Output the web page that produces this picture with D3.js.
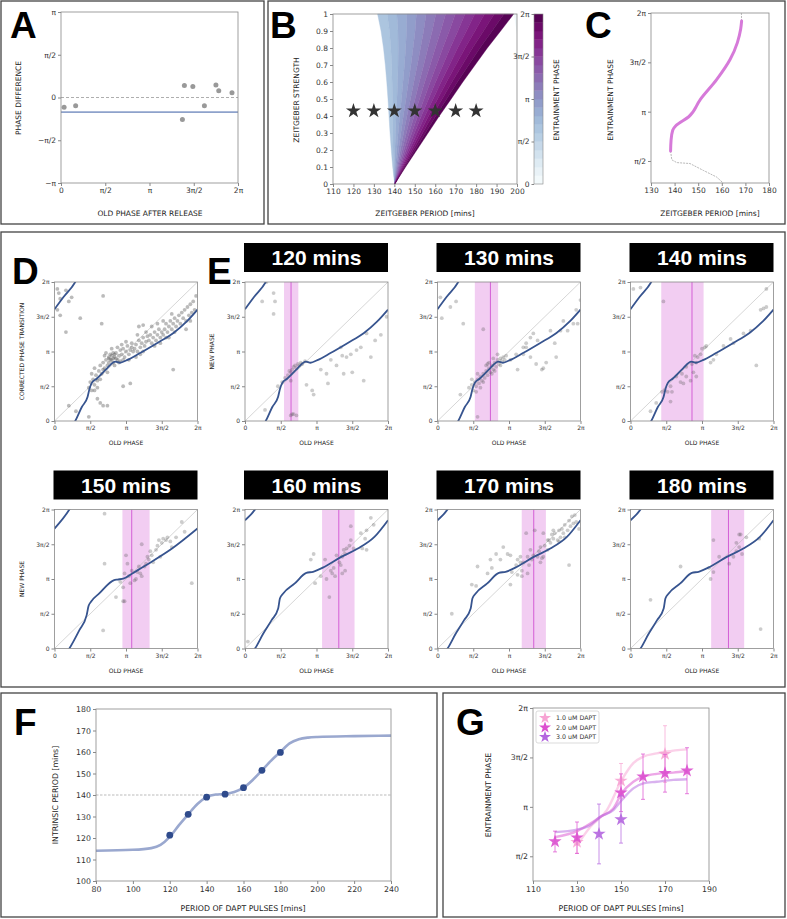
<!DOCTYPE html>
<html>
<head>
<meta charset="utf-8">
<title>Entrainment of the segmentation clock</title>
<script src="https://cdn.jsdelivr.net/npm/d3@7"></script>
<style>
  body, html { margin: 0; padding: 0; background: #fff; }
  svg { display: block; }
</style>
</head>
<body>
<svg id="svg" width="787" height="919"></svg>
<script>
const TAU = 2 * Math.PI;
const PI = Math.PI;
const FONT = 'DejaVu Sans, sans-serif';
const BOLD = 'Liberation Sans, Arial, sans-serif';

// ---------- data ----------
const piTicks = [0, PI / 2, PI, 3 * PI / 2, TAU];
const piLabels = ['0', 'π/2', 'π', '3π/2', '2π'];

// A: phase difference after release
const aOldPhase = [0.11, 0.52, 4.31, 4.38, 4.68, 5.09, 5.50, 5.60, 6.07];
const aPhaseDiff = [-0.36, -0.30, -0.81, 0.44, 0.40, -0.30, 0.46, 0.25, 0.17];
const aMeanDiff = -0.54;
const aYTicks = [-PI, -PI / 2, 0, PI / 2, PI];
const aYLabels = ['−π', '−π/2', '0', 'π/2', 'π'];

// B: Arnold tongue, edges of the entrainment region
const bStrength = [0, 0.1, 0.2, 0.3, 0.4, 0.5, 0.6, 0.7, 0.8, 0.9, 1.0];
const bLeftEdge = [140.2, 139.2, 138.5, 137.9, 137.4, 136.9, 136.3, 135.6, 134.7, 133.5, 131.8];
const bRightEdge = [140.2, 145.5, 151.0, 156.5, 162.0, 167.8, 173.5, 179.5, 185.5, 192.0, 198.4];
const bLeftPhase = 1.89;           // entrainment phase along the left edge
const bWrapPeriod = [198.4, 200, 200];
const bWrapStrength = [1, 1, 0.88];
const bStarPeriods = [120, 130, 140, 150, 160, 170, 180];
const bStarStrength = 0.43;
const bLevels = 20;

// C: entrainment phase at strength 0.43
const cPeriod = [138.3, 138.5, 139.2, 140.6, 146.0, 150.8, 157.8, 163.5, 166.6, 168.0, 168.4];
const cPhase = [1.89, 2.23, 2.55, 2.70, 2.98, 3.52, 4.16, 4.80, 5.34, 5.77, 6.03];
const cUpperPeriod = [168.4, 168.3];
const cUpperPhase = [6.03, 6.28];
const cLowerPeriod = [138.3, 138.8, 140.9, 146.5, 152.2, 157.8, 160.6];
const cLowerPhase = [1.89, 1.61, 1.52, 1.49, 1.27, 1.06, 0.87];
const cPhaseMin = 0.87;

// D/E: phases in percent of a cycle (0..100 = 0..2π)
const curveLowX = [0, 6.3, 14.5, 19.1, 23.1, 24.5, 26.1, 29.6, 36.6, 42.5, 45.8, 50.6, 59.8, 71.6, 83.2, 92.5, 100];
const curveLowY = [-19.6, -10.8, 0, 10.1, 17.3, 23.2, 27.4, 30.6, 37.7, 42.7, 41.9, 43.8, 48.9, 56.0, 63.3, 71.6, 80.1];
const curve150X = [0, 10.4, 17.4, 22.5, 23.8, 25.5, 31.3, 41.7, 44.0, 48.6, 54.4, 66.0, 82.2, 100];
const curve150Y = [-13.7, 0, 13.2, 24.0, 30.5, 33.6, 39.6, 49.2, 49.6, 50.4, 54.0, 61.2, 71.9, 86.3];
const curveHighX = [0, 7.0, 12.8, 18.6, 23.2, 24.4, 26.7, 34.8, 42.9, 47.6, 55.7, 67.3, 78.9, 90.5, 100];
const curveHighY = [-7.7, 0, 10.8, 20.4, 28.8, 36.0, 39.6, 46.8, 54.4, 55.2, 58.8, 65.9, 71.9, 80.3, 92.3];

const ePeriods = [120, 130, 140, 150, 160, 170, 180];
const eBandLo = [27.3, 26.1, 21.5, 47.5, 53.9, 58.9, 56.4];
const eBandHi = [37.3, 42.4, 51.1, 66.5, 76.6, 75.8, 79.5];
const eMean = [32.2, 37.0, 43.0, 54.0, 65.6, 67.3, 68.5];

const dPoints = [[2,95],[3,92],[4,88],[8,94],[12,89],[10,86],[2,80],[4,76],[18,74],[8,64],[34,90],[33,70],[59,68],[62,69],[24,3],[30,16],[32,13],[34,11],[37,11],[10,11],[15,7],[28,22],[48,25],[53,27],[83,37],
[24,24],[25,28],[26,22],[27,30],[28,26],[29,33],[30,29],[26,34],[28,38],[30,24],
[31,36],[32,40],[33,34],[34,42],[35,38],[36,44],[37,40],[38,46],[32,30],[35,47],[37,35],[38,42],[34,37],[36,49],
[39,44],[40,47],[41,42],[42,46],[43,49],[44,44],[45,47],[46,51],[40,52],[42,40],[44,53],[46,43],[39,48],[41,45],[43,45],[45,42],[40,44],[42,48],[38,45],[41,49],
[47,48],[48,52],[49,46],[50,50],[51,54],[52,48],[53,51],[54,56],[55,50],[48,44],[50,57],[52,44],[54,53],[47,55],
[56,52],[57,55],[58,50],[59,58],[60,53],[61,56],[62,60],[63,54],[64,57],[65,61],[58,62],[60,48],[62,50],[64,64],[57,46],
[66,58],[67,62],[68,56],[69,60],[70,64],[71,58],[72,62],[73,66],[74,60],[75,64],[68,68],[70,54],[72,70],[74,56],
[76,62],[77,66],[78,70],[79,64],[80,68],[81,72],[82,66],[83,70],[84,74],[85,68],[80,60],[82,77],[84,64],[78,60],[76,72],
[86,72],[87,76],[88,70],[89,78],[90,74],[91,80],[92,72],[93,82],[94,76],[95,84],[96,78],[97,86],[98,80],[99,90],[92,66],[95,72]];

const e120Points = [[15,100],[20,92],[21,86],[12,86],[20,77],[14,8],[23,25],[26,28],[28,31],[30,33],[31,36],[32,35],[33,37],[34,39],[35,40],[36,38],[37,41],[38,40],[39,42],[40,41],[42,43],[32,29],[33,5],[34,5],[32,4],[36,4],
[43,26],[47,22],[48,19],[57,34],[60,44],[64,40],[67,53],[68,47],[71,46],[74,48],[78,51],[81,53],[83,29],[85,63],[88,46],[91,58],[95,62],[99,75],[75,35],[69,34],[58,27],[53,37]];

const e130Points = [[2,89],[3,74],[9,82],[13,86],[18,70],[32,66],[28,3],[16,19],
[22,24],[24,26],[25,22],[26,28],[27,25],[28,30],[29,27],[30,32],[31,29],[32,34],[33,31],[34,36],[35,33],[36,38],[37,35],[38,40],[39,37],[40,42],[41,39],[42,44],[43,41],[44,45],[45,43],[46,46],[47,44],[48,47],[24,30],[28,34],[32,28],[36,42],[40,36],[44,40],[30,24],[34,40],[38,34],[42,48],[27,21],[35,41],[39,45],
[51,44],[55,48],[56,37],[60,53],[62,56],[65,60],[60,48],[65,46],[69,41],[74,38],[76,42],[82,56],[86,65],[88,72],[91,65],[95,70],[97,80],[100,87],[98,70],[70,58],[67,63],[62,53],[73,37],[79,65],[83,46]];

const e140Points = [[2,95],[7,96],[23,86],[22,21],[24,22],[26,21],[28,25],[29,21],[28,14],[14,7],[18,13],[32,32],[35,28],[37,27],[39,32],[42,29],[44,35],[43,41],[45,47],[47,46],[49,48],[46,42],[50,52],[52,53],[53,54],[56,42],[58,44],[60,48],[65,54],[70,59],[72,56],[79,63],[84,65],[88,40],[91,80],[93,81],[95,82],[95,95],[46,32],[39,39],[36,34]];

const e150Points = [[35,97],[35,61],[34,13],[49,34],[48,34],[43,37],[50,67],[51,61],[49,54],[52,52],[54,56],[57,50],[59,59],[60,54],[61,52],[61,75],[64,61],[65,66],[66,64],[67,70],[68,67],[71,71],[72,74],[73,78],[75,76],[76,79],[78,78],[79,80],[81,77],[82,73],[85,80],[89,91],[91,84],[96,47],[46,48],[53,47],[56,49],[58,55],[63,59],[48,44],[74,66],[69,62]];

const e160Points = [[2,5],[48,68],[46,64],[56,64],[60,56],[61,54],[57,50],[59,37],[62,58],[64,67],[66,62],[67,60],[68,66],[69,71],[70,68],[71,72],[73,74],[74,88],[70,56],[68,54],[76,72],[81,83],[85,85],[88,94],[90,89],[82,72],[85,71],[84,79],[63,52],[49,47],[53,52],[74,78]];

const e170Points = [[10,25],[24,46],[27,45],[28,59],[35,54],[37,64],[38,58],[46,73],[49,68],[51,46],[52,55],[55,60],[56,64],[58,66],[59,56],[60,62],[62,83],[63,66],[64,60],[65,71],[66,64],[67,67],[68,85],[70,66],[71,70],[72,73],[73,65],[74,83],[75,74],[77,71],[78,78],[79,76],[80,82],[81,79],[82,83],[84,78],[85,85],[86,80],[87,86],[88,83],[89,89],[91,85],[92,92],[93,88],[94,95],[95,90],[96,96],[97,91],[99,86],[92,60],[56,53],[59,52],[63,54],[58,62],[51,67],[44,64],[41,68],[77,78],[81,85],[85,77],[89,80],[72,62],[74,66]];

const e180Points = [[14,35],[35,59],[58,78],[58,55],[56,50],[55,58],[62,66],[69,61],[74,76],[76,82],[77,82],[74,70],[76,73],[78,68],[81,80],[90,79],[91,14],[72,66]];

// F: intrinsic period vs DAPT pulse period
const fPulse = [120, 130, 140, 150, 160, 170, 180];
const fIntrinsic = [121.3, 131.0, 139.0, 140.4, 143.4, 151.5, 159.8];
const fFitX = [80, 100, 110, 115, 120, 125, 130, 135, 140, 145, 150, 155, 160, 165, 170, 175, 180, 185, 190, 195, 200, 220, 240];
const fFitY = [114.1, 114.5, 115.3, 116.8, 120.5, 126.0, 131.0, 135.8, 139.0, 140.2, 140.5, 141.4, 143.4, 147.0, 151.5, 156.0, 160.0, 164.0, 165.9, 166.7, 167.0, 167.4, 167.6];
const fRefPeriod = 140;

// G: entrainment phase per DAPT concentration
const gSeries = ['1.0 uM DAPT', '2.0 uM DAPT', '3.0 uM DAPT'];
const gColors = ['#f7a3d3', '#dc50cf', '#b466df'];
const g1X = [130, 150, 170], g1Y = [2.02, 3.97, 4.82], g1Err = [0.35, 0.55, 0.90];
const g2X = [120, 130, 150, 160, 170, 180], g2Y = [2.04, 2.16, 3.59, 4.10, 4.21, 4.29], g2Err = [0.33, 0.50, 0.60, 0.72, 0.60, 0.73];
const g3X = [140, 150], g3Y = [2.28, 2.74], g3Err = [0.95, 0.75];
const gFit1X = [130, 136, 143.5, 150.3, 155.6, 160.1, 166.2, 170.7, 180];
const gFit1Y = [1.92, 2.50, 3.03, 3.99, 4.53, 4.74, 4.84, 4.90, 4.97];
const gFitX = [120, 130, 136, 140.5, 146.5, 150.3, 155.6, 160.1, 166.2, 173.7, 180];
const gFit2Y = [2.18, 2.37, 2.61, 2.82, 3.09, 3.57, 3.94, 4.10, 4.19, 4.23, 4.28];
const gFit3Y = [2.34, 2.42, 2.56, 2.82, 3.04, 3.35, 3.73, 3.89, 3.94, 4.00, 4.02];

// ---------- helpers ----------
const svg = d3.select('#svg');
svg.append('rect').attr('width', 787).attr('height', 919).attr('fill', '#fff');

// panel boxes
[[1, 1, 263, 223], [268, 1, 517, 223], [1, 232, 784, 455], [1, 693, 436, 224], [443, 693, 342, 224]]
  .forEach(b => svg.append('rect').attr('x', b[0]).attr('y', b[1]).attr('width', b[2]).attr('height', b[3])
    .attr('fill', 'none').attr('stroke', '#444').attr('stroke-width', 1.3));

function letter(t, x, y) {
  svg.append('text').attr('x', x).attr('y', y).text(t)
    .attr('font-family', BOLD).attr('font-weight', 'bold').attr('font-size', 37).attr('fill', '#000');
}

function label(g, t, x, y, fs, rot) {
  g.append('text').text(t)
    .attr('transform', rot ? `translate(${x},${y}) rotate(-90)` : `translate(${x},${y})`)
    .attr('text-anchor', 'middle').attr('font-family', FONT).attr('font-size', fs).attr('fill', '#222');
}

function styleAxis(sel, fs) {
  sel.select('.domain').remove();
  sel.selectAll('text').attr('font-size', fs).attr('font-family', FONT).attr('fill', '#333');
  sel.selectAll('line').attr('stroke', '#555').attr('stroke-width', 0.7);
}

function axes(g, x, y, o) {
  const xa = d3.axisBottom(x).tickValues(o.xt).tickSize(3).tickPadding(2);
  if (o.xl) xa.tickFormat((d, i) => o.xl[i]);
  const ya = d3.axisLeft(y).tickValues(o.yt).tickSize(3).tickPadding(2);
  if (o.yl) ya.tickFormat((d, i) => o.yl[i]);
  g.append('g').attr('transform', `translate(0,${y.range()[0]})`).call(xa).call(s => styleAxis(s, o.fs));
  g.append('g').attr('transform', `translate(${x.range()[0]},0)`).call(ya).call(s => styleAxis(s, o.fs));
  g.append('rect').attr('x', x.range()[0]).attr('y', y.range()[1])
    .attr('width', x.range()[1] - x.range()[0]).attr('height', y.range()[0] - y.range()[1])
    .attr('fill', 'none').attr('stroke', '#888').attr('stroke-width', 0.8);
}

// ---------- A ----------
{
  const g = svg.append('g');
  const x = d3.scaleLinear().domain([0, TAU]).range([61, 238]);
  const y = d3.scaleLinear().domain([-PI, PI]).range([183, 12]);
  g.append('line').attr('x1', x(0)).attr('x2', x(TAU)).attr('y1', y(0)).attr('y2', y(0))
    .attr('stroke', '#999').attr('stroke-width', 0.8).attr('stroke-dasharray', '3,2');
  g.append('line').attr('x1', x(0)).attr('x2', x(TAU)).attr('y1', y(aMeanDiff)).attr('y2', y(aMeanDiff))
    .attr('stroke', '#8ea2cb').attr('stroke-width', 1.8);
  g.selectAll('circle').data(aOldPhase).join('circle')
    .attr('cx', d => x(d)).attr('cy', (d, i) => y(aPhaseDiff[i])).attr('r', 2.5).attr('fill', '#999');
  axes(g, x, y, { xt: piTicks, xl: piLabels, yt: aYTicks, yl: aYLabels, fs: 7.5 });
  label(g, 'OLD PHASE AFTER RELEASE', 150, 216, 7.5);
  label(g, 'PHASE DIFFERENCE', 21, 98, 7.5, true);
  letter('A', 10, 38);
}

// ---------- B ----------
{
  const g = svg.append('g');
  const x = d3.scaleLinear().domain([110, 200]).range([333, 517]);
  const y = d3.scaleLinear().domain([0, 1]).range([184, 14]);
  const col = v => d3.interpolateBuPu(Math.min(1, v / TAU));
  const step = TAU / bLevels;
  const edge = f => bStrength.map((s, i) => [x(bLeftEdge[i] + f * (bRightEdge[i] - bLeftEdge[i])), y(s)]);
  for (let k = 0; k < bLevels; k++) {
    const p0 = Math.max(k * step, bLeftPhase), p1 = (k + 1) * step;
    if (p1 <= bLeftPhase) continue;
    const f0 = (p0 - bLeftPhase) / (TAU - bLeftPhase), f1 = (p1 - bLeftPhase) / (TAU - bLeftPhase);
    const poly = edge(f0).concat(edge(f1).reverse());
    g.append('path').attr('d', 'M' + poly.join('L') + 'Z')
      .attr('fill', col((k + 0.5) * step)).attr('stroke', col((k + 0.5) * step)).attr('stroke-width', 0.4);
  }
  const wrap = bWrapPeriod.map((p, i) => [x(p), y(bWrapStrength[i])]);
  g.append('path').attr('d', 'M' + wrap.join('L') + 'Z').attr('fill', col(0.5 * step));
  g.selectAll('.star').data(bStarPeriods).join('path').attr('class', 'star')
    .attr('d', d3.symbol().type(d3.symbolStar).size(70))
    .attr('transform', d => `translate(${x(d)},${y(bStarStrength)})`).attr('fill', '#333');
  axes(g, x, y, { xt: d3.range(110, 201, 10), yt: bStrength, yl: bStrength.map(v => v === 0 ? '0' : v === 1 ? '1' : v.toFixed(1)), fs: 7.5 });
  label(g, 'ZEITGEBER PERIOD [mins]', 425, 216, 7.5);
  label(g, 'ZEITGEBER STRENGTH', 299, 100, 7.5, true);
  // colorbar
  const cb = d3.scaleLinear().domain([0, TAU]).range([184, 14]);
  for (let k = 0; k < bLevels; k++) {
    g.append('rect').attr('x', 534).attr('width', 9).attr('y', cb((k + 1) * step)).attr('height', cb(k * step) - cb((k + 1) * step) + 0.3)
      .attr('fill', col((k + 0.5) * step));
  }
  g.append('rect').attr('x', 534).attr('y', 14).attr('width', 9).attr('height', 170).attr('fill', 'none').attr('stroke', '#888').attr('stroke-width', 0.6);
  g.append('g').attr('transform', 'translate(534,0)')
    .call(d3.axisLeft(cb).tickValues(piTicks).tickFormat((d, i) => piLabels[i]).tickSize(2.5).tickPadding(2))
    .call(s => styleAxis(s, 7.5));
  label(g, 'ENTRAINMENT PHASE', 559, 100, 7.5, true);
  letter('B', 270, 38);
}

// ---------- C ----------
{
  const g = svg.append('g');
  const x = d3.scaleLinear().domain([130, 180]).range([651, 769]);
  const y = d3.scaleLinear().domain([cPhaseMin, TAU]).range([183, 13]);
  const line = d3.line().x(d => x(d[0])).y(d => y(d[1])).curve(d3.curveMonotoneY);
  const zip = (a, b) => a.map((v, i) => [v, b[i]]);
  [zip(cUpperPeriod, cUpperPhase), zip(cLowerPeriod, cLowerPhase)].forEach(d =>
    g.append('path').attr('d', d3.line().x(p => x(p[0])).y(p => y(p[1]))(d))
      .attr('fill', 'none').attr('stroke', '#999').attr('stroke-width', 0.7).attr('stroke-dasharray', '2,1'));
  g.append('path').attr('d', line(zip(cPeriod, cPhase)))
    .attr('fill', 'none').attr('stroke', '#d67ad9').attr('stroke-width', 3).attr('stroke-linecap', 'round');
  axes(g, x, y, { xt: d3.range(130, 181, 10), yt: piTicks.slice(1), yl: piLabels.slice(1), fs: 7.5 });
  label(g, 'ZEITGEBER PERIOD [mins]', 710, 216, 7.5);
  label(g, 'ENTRAINMENT PHASE', 613, 100, 7.5, true);
  letter('C', 585, 38);
}

// ---------- D / E ----------
const pctTicks = [0, 25, 50, 75, 100];
const phasePanels = [
  { pts: dPoints, cx: curveLowX, cy: curveLowY, col: 0, row: 0, ylab: 'CORRECTED PHASE TRANSITION', op: 0.4 },
  { pts: e120Points, cx: curveLowX, cy: curveLowY, col: 1, row: 0, k: 0, ylab: 'NEW PHASE' },
  { pts: e130Points, cx: curveLowX, cy: curveLowY, col: 2, row: 0, k: 1 },
  { pts: e140Points, cx: curveLowX, cy: curveLowY, col: 3, row: 0, k: 2 },
  { pts: e150Points, cx: curve150X, cy: curve150Y, col: 0, row: 1, k: 3, ylab: 'NEW PHASE' },
  { pts: e160Points, cx: curveHighX, cy: curveHighY, col: 1, row: 1, k: 4 },
  { pts: e170Points, cx: curveHighX, cy: curveHighY, col: 2, row: 1, k: 5 },
  { pts: e180Points, cx: curveHighX, cy: curveHighY, col: 3, row: 1, k: 6 }
];
const colX = [54.5, 245, 437.5, 630.5];
const rowY = [282, 509.5];
const PW = 143, PH = 139;

phasePanels.forEach((p, n) => {
  const g = svg.append('g');
  const x0 = colX[p.col], y0 = rowY[p.row];
  const x = d3.scaleLinear().domain([0, 100]).range([x0, x0 + PW]);
  const y = d3.scaleLinear().domain([0, 100]).range([y0 + PH, y0]);
  const clip = 'clip' + n;
  g.append('clipPath').attr('id', clip).append('rect').attr('x', x0).attr('y', y0).attr('width', PW).attr('height', PH);
  const inner = g.append('g').attr('clip-path', `url(#${clip})`);
  if (p.k !== undefined) {
    inner.append('rect').attr('x', x(eBandLo[p.k])).attr('width', x(eBandHi[p.k]) - x(eBandLo[p.k]))
      .attr('y', y0).attr('height', PH).attr('fill', '#f2cdf2');
    inner.append('line').attr('x1', x(eMean[p.k])).attr('x2', x(eMean[p.k])).attr('y1', y0).attr('y2', y0 + PH)
      .attr('stroke', '#d45fd6').attr('stroke-width', 1);
    // title box
    g.append('rect').attr('x', x0 - 1).attr('y', y0 - 39).attr('width', PW + 1).attr('height', 29).attr('fill', '#000');
    g.append('text').attr('x', x0 + PW / 2).attr('y', y0 - 17).attr('text-anchor', 'middle')
      .attr('font-family', BOLD).attr('font-weight', 'bold').attr('font-size', 21).attr('fill', '#fff')
      .text(ePeriods[p.k] + ' mins');
  }
  inner.append('line').attr('x1', x(0)).attr('y1', y(0)).attr('x2', x(100)).attr('y2', y(100))
    .attr('stroke', '#bbb').attr('stroke-width', 0.6);
  inner.selectAll('circle').data(p.pts).join('circle')
    .attr('cx', d => x(d[0])).attr('cy', d => y(d[1])).attr('r', 1.9)
    .attr('fill', '#555').attr('fill-opacity', p.op || 0.3);
  const line = d3.line().x(d => x(d[0])).y(d => y(d[1])).curve(d3.curveMonotoneX);
  [0, 100].forEach(shift =>
    inner.append('path').attr('d', line(p.cx.map((v, i) => [v, p.cy[i] + shift])))
      .attr('fill', 'none').attr('stroke', '#37548f').attr('stroke-width', 1.8));
  axes(g, x, y, { xt: pctTicks, xl: piLabels, yt: pctTicks, yl: piLabels, fs: 6 });
  label(g, 'OLD PHASE', x0 + PW / 2, y0 + PH + 24, 6);
  if (p.ylab) label(g, p.ylab, x0 - 31, y0 + PH / 2, 6, true);
});
letter('D', 12, 284);
letter('E', 207, 284);

// ---------- F ----------
{
  const g = svg.append('g');
  const x = d3.scaleLinear().domain([80, 240]).range([96, 391]);
  const y = d3.scaleLinear().domain([100, 180]).range([881, 709]);
  g.append('line').attr('x1', x(80)).attr('x2', x(240)).attr('y1', y(fRefPeriod)).attr('y2', y(fRefPeriod))
    .attr('stroke', '#aaa').attr('stroke-width', 0.8).attr('stroke-dasharray', '2.5,1.5');
  g.append('path').attr('d', d3.line().x((d, i) => x(d)).y((d, i) => y(fFitY[i])).curve(d3.curveMonotoneX)(fFitX))
    .attr('fill', 'none').attr('stroke', '#9aa8cf').attr('stroke-width', 2.6);
  g.selectAll('circle').data(fPulse).join('circle')
    .attr('cx', d => x(d)).attr('cy', (d, i) => y(fIntrinsic[i])).attr('r', 3.4).attr('fill', '#2f4b8c');
  axes(g, x, y, { xt: d3.range(80, 241, 20), yt: d3.range(100, 181, 10), fs: 7.8 });
  label(g, 'PERIOD OF DAPT PULSES [mins]', 243, 911, 7.8);
  label(g, 'INTRINSIC PERIOD [mins]', 58, 795, 7.8, true);
  letter('F', 14, 735);
}

// ---------- G ----------
{
  const g = svg.append('g');
  const x = d3.scaleLinear().domain([110, 190]).range([533, 709]);
  const y = d3.scaleLinear().domain([PI / 4, TAU]).range([881, 708]);
  const fit = d3.line().x(d => x(d[0])).y(d => y(d[1])).curve(d3.curveMonotoneX);
  const zip = (a, b) => a.map((v, i) => [v, b[i]]);
  [zip(gFit1X, gFit1Y), zip(gFitX, gFit2Y), zip(gFitX, gFit3Y)].forEach((d, s) =>
    g.append('path').attr('d', fit(d)).attr('fill', 'none').attr('stroke', gColors[s])
      .attr('stroke-width', 2.4).attr('stroke-opacity', 0.5));
  const sets = [[g1X, g1Y, g1Err], [g2X, g2Y, g2Err], [g3X, g3Y, g3Err]];
  sets.forEach(([xs, ys, es], s) => {
    xs.forEach((v, i) => {
      const c = gColors[s];
      g.append('line').attr('x1', x(v)).attr('x2', x(v)).attr('y1', y(ys[i] - es[i])).attr('y2', y(ys[i] + es[i]))
        .attr('stroke', c).attr('stroke-width', 0.9).attr('stroke-opacity', 0.8);
      [ys[i] - es[i], ys[i] + es[i]].forEach(e =>
        g.append('line').attr('x1', x(v) - 2).attr('x2', x(v) + 2).attr('y1', y(e)).attr('y2', y(e))
          .attr('stroke', c).attr('stroke-width', 0.9).attr('stroke-opacity', 0.8));
      g.append('path').attr('d', d3.symbol().type(d3.symbolStar).size(55)())
        .attr('transform', `translate(${x(v)},${y(ys[i])})`).attr('fill', c).attr('fill-opacity', 0.9);
    });
  });
  axes(g, x, y, { xt: [110, 130, 150, 170, 190], yt: piTicks.slice(1), yl: piLabels.slice(1), fs: 7.8 });
  // legend
  g.append('rect').attr('x', 536).attr('y', 711).attr('width', 63).attr('height', 32).attr('rx', 2)
    .attr('fill', '#fff').attr('stroke', '#ccc').attr('stroke-width', 0.7);
  gSeries.forEach((t, s) => {
    const ly = 718 + s * 9.5;
    g.append('path').attr('d', d3.symbol().type(d3.symbolStar).size(45)())
      .attr('transform', `translate(545,${ly})`).attr('fill', gColors[s]);
    g.append('text').attr('x', 556).attr('y', ly + 2.3).text(t)
      .attr('font-family', FONT).attr('font-size', 6.3).attr('fill', '#333');
  });
  label(g, 'PERIOD OF DAPT PULSES [mins]', 621, 911, 7.8);
  label(g, 'ENTRAINMENT PHASE', 491, 795, 7.8, true);
  letter('G', 456, 735);
}
</script>
</body>
</html>
